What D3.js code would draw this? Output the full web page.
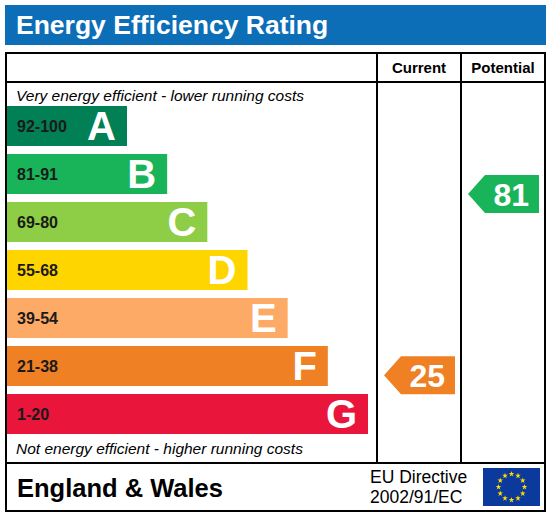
<!DOCTYPE html>
<html>
<head>
<meta charset="utf-8">
<script src="https://cdn.jsdelivr.net/npm/d3@7"></script>
<style>
    body { margin: 0; background: #fff; }
    svg { display: block; font-family: "Liberation Sans", Arial, sans-serif; }
</style>
</head>
<body>
<div id="chart"></div>
<script>
// Data ------------------------------------
var letters = ["A", "B", "C", "D", "E", "F", "G"];
var ranges = ["92-100", "81-91", "69-80", "55-68", "39-54", "21-38", "1-20"];
var lowValues = [92, 81, 69, 55, 39, 21, 1];
var bandColors = ["#008054", "#19b459", "#8dce46", "#ffd500", "#fcaa65", "#ef8023", "#e9153b"];
var columns = ["Current", "Potential"];
var ratings = [25, 81];

var width = 550, height = 517;

var svg = d3.select("#chart")
    .append("svg")
    .attr("width", width)
    .attr("height", height);

// which band a rating falls in
function bandOf(v) {
    for (var i = 0; i < lowValues.length; i++) {
        if (v >= lowValues[i]) return i;
    }
    return lowValues.length - 1;
}

// title bar
svg.append("rect")
    .attr("x", 5).attr("y", 5)
    .attr("width", 541).attr("height", 40)
    .attr("fill", "#0c6eb7");
svg.append("text")
    .attr("x", 16).attr("y", 34)
    .attr("fill", "#fff")
    .style("font-size", "26.5px")
    .style("font-weight", "bold")
    .text("Energy Efficiency Rating");

// table frame
var boxLeft = 6, boxRight = 545, boxTop = 53, headBottom = 82, footTop = 463, boxBottom = 511;
var colX = d3.scaleBand()
    .domain(columns)
    .range([377, boxRight]);

svg.append("rect")
    .attr("x", boxLeft).attr("y", boxTop)
    .attr("width", boxRight - boxLeft).attr("height", boxBottom - boxTop)
    .attr("fill", "none")
    .attr("stroke", "#000")
    .attr("stroke-width", 2);

svg.selectAll(".rowLine")
    .data([headBottom, footTop])
    .enter()
    .append("line")
    .attr("x1", boxLeft).attr("x2", boxRight)
    .attr("y1", function (d) { return d; })
    .attr("y2", function (d) { return d; })
    .attr("stroke", "#000").attr("stroke-width", 2);

svg.selectAll(".colLine")
    .data(columns)
    .enter()
    .append("line")
    .attr("x1", function (d) { return colX(d); })
    .attr("x2", function (d) { return colX(d); })
    .attr("y1", boxTop).attr("y2", footTop)
    .attr("stroke", "#000").attr("stroke-width", 2);

svg.selectAll(".colHead")
    .data(columns)
    .enter()
    .append("text")
    .attr("x", function (d) { return colX(d) + colX.bandwidth() / 2; })
    .attr("y", 73)
    .attr("text-anchor", "middle")
    .style("font-size", "15px")
    .style("font-weight", "bold")
    .text(function (d) { return d; });

// bands
var y = d3.scaleBand()
    .domain(letters)
    .range([106, 434])
    .paddingInner(1 / 6);
var x = d3.scaleLinear()
    .domain([0, letters.length - 1])
    .range([127, 368]);

svg.append("text")
    .attr("x", 16).attr("y", 101)
    .style("font-size", "15.5px")
    .style("font-style", "italic")
    .text("Very energy efficient - lower running costs");
svg.append("text")
    .attr("x", 16).attr("y", 454)
    .style("font-size", "15.5px")
    .style("font-style", "italic")
    .text("Not energy efficient - higher running costs");

var bands = svg.selectAll(".band")
    .data(letters)
    .enter()
    .append("g");

bands.append("rect")
    .attr("x", 7)
    .attr("y", function (d) { return y(d); })
    .attr("width", function (d, i) { return x(i) - 7; })
    .attr("height", y.bandwidth())
    .attr("fill", function (d, i) { return bandColors[i]; });

bands.append("text")
    .attr("x", 17)
    .attr("y", function (d) { return y(d) + y.bandwidth() / 2 + 6; })
    .style("font-size", "16px")
    .style("font-weight", "bold")
    .attr("fill", "#1a1a1a")
    .text(function (d, i) { return ranges[i]; });

bands.append("text")
    .attr("x", function (d, i) { return x(i) - 11; })
    .attr("y", function (d) { return y(d) + y.bandwidth() / 2 + 14; })
    .attr("text-anchor", "end")
    .attr("fill", "#fff")
    .style("font-size", "40px")
    .style("font-weight", "bold")
    .text(function (d) { return d; });

// rating arrows, placed by value within its band
var step = y.step();
var valueDomain = lowValues.slice().reverse().concat([101]);
var valueRange = letters.slice().reverse()
    .map(function (d) { return y(d) + y.bandwidth(); })
    .concat([y("A") + y.bandwidth() - step]);
var valueY = d3.scaleLinear()
    .domain(valueDomain)
    .range(valueRange);

var arrowH = 38, tipW = 17;
var arrows = svg.selectAll(".arrow")
    .data(ratings)
    .enter()
    .append("g")
    .attr("transform", function (d) {
        return "translate(0," + valueY(d) + ")";
    });

arrows.append("path")
    .attr("d", function (d, i) {
        var x0 = colX(columns[i]) + 7, x1 = colX(columns[i]) + colX.bandwidth() - 6;
        return "M" + x0 + ",0L" + (x0 + tipW) + "," + (-arrowH / 2) +
            "L" + x1 + "," + (-arrowH / 2) + "L" + x1 + "," + (arrowH / 2) +
            "L" + (x0 + tipW) + "," + (arrowH / 2) + "Z";
    })
    .attr("fill", function (d) { return bandColors[bandOf(d)]; });

arrows.append("text")
    .attr("x", function (d, i) { return colX(columns[i]) + colX.bandwidth() - 16; })
    .attr("y", 12)
    .attr("text-anchor", "end")
    .attr("fill", "#fff")
    .style("font-size", "32px")
    .style("font-weight", "bold")
    .text(function (d) { return d; });

// footer
svg.append("text")
    .attr("x", 17).attr("y", 497)
    .style("font-size", "25.5px")
    .style("font-weight", "bold")
    .text("England & Wales");
svg.append("text")
    .attr("x", 370).attr("y", 483)
    .style("font-size", "17.5px")
    .text("EU Directive");
svg.append("text")
    .attr("x", 370).attr("y", 503)
    .style("font-size", "17.5px")
    .text("2002/91/EC");

// EU flag
svg.append("rect")
    .attr("x", 483).attr("y", 468)
    .attr("width", 57).attr("height", 38)
    .attr("fill", "#0b3a9c");
var starAngle = d3.scaleLinear().domain([0, 12]).range([0, 2 * Math.PI]);
svg.selectAll(".star")
    .data(d3.range(12))
    .enter()
    .append("path")
    .attr("d", d3.symbol(d3.symbolStar).size(10))
    .attr("transform", function (d) {
        var a = starAngle(d);
        return "translate(" + (511.5 + 13 * Math.sin(a)) + "," + (487 - 13 * Math.cos(a)) + ")";
    })
    .attr("fill", "#ffdd00");
</script>
</body>
</html>
